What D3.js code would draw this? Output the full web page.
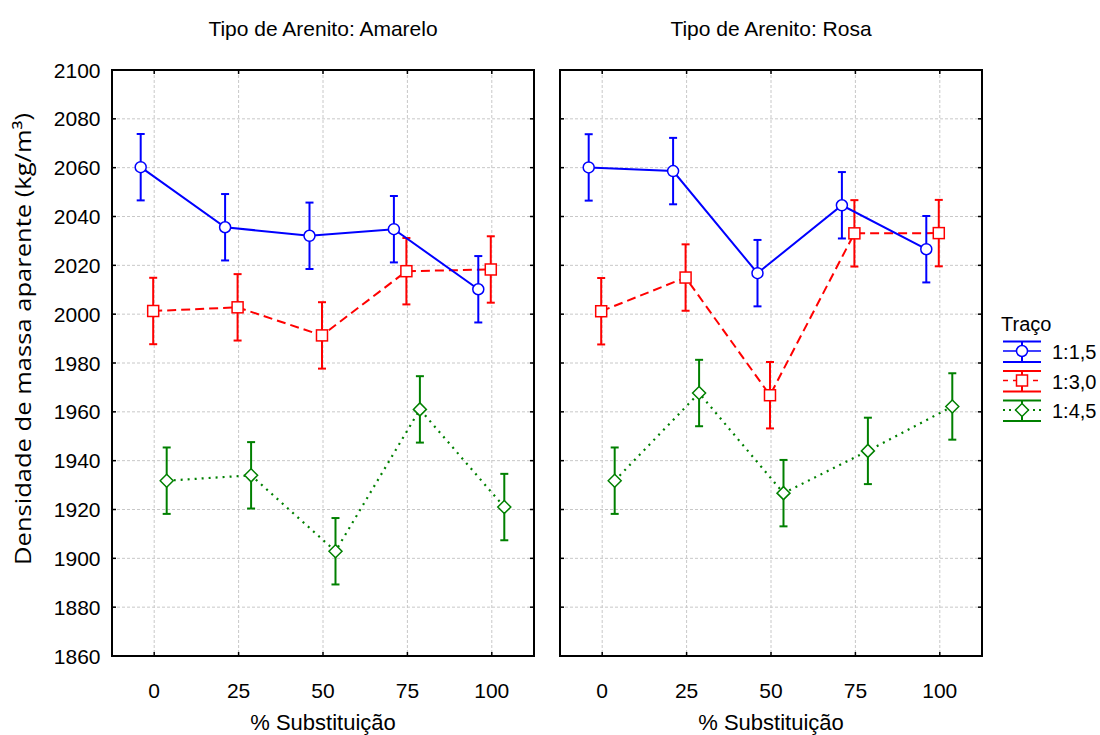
<!DOCTYPE html>
<html>
<head>
<meta charset="utf-8">
<script src="https://cdn.jsdelivr.net/npm/d3@7"></script>
<style>
  html, body { margin: 0; padding: 0; background: #fff; }
  svg { display: block; }
  text { font-family: "Liberation Sans", Arial, sans-serif; fill: #000; }
</style>
</head>
<body>
<svg id="chart" width="1100" height="735"></svg>
<script>
// Substitution levels (%) on the x axis
const categories = [0, 25, 50, 75, 100];
// Mix proportions (legend "Traço")
const seriesNames = ["1:1,5", "1:3,0", "1:4,5"];
const seriesColors = ["#0000ff", "#ff0000", "#008000"];
const panelTitles = ["Tipo de Arenito: Amarelo", "Tipo de Arenito: Rosa"];
const yTicks = [1860, 1880, 1900, 1920, 1940, 1960, 1980, 2000, 2020, 2040, 2060, 2080, 2100];

// Mean apparent density (kg/m³) – Amarelo
const amarelo_1_15 = [2060.2, 2035.6, 2032.1, 2034.8, 2010.2];
const amarelo_1_30 = [2001.3, 2002.8, 1991.3, 2017.6, 2018.3];
const amarelo_1_45 = [1931.8, 1934.0, 1902.9, 1961.0, 1921.0];
// Mean apparent density (kg/m³) – Rosa
const rosa_1_15 = [2060.1, 2058.6, 2016.8, 2044.6, 2026.6];
const rosa_1_30 = [2001.2, 2015.0, 1966.8, 2033.1, 2033.2];
const rosa_1_45 = [1931.8, 1967.7, 1926.7, 1944.0, 1962.2];
// Half-width of the confidence interval bars
const ciHalf = 13.6;

const panels = [
  { title: panelTitles[0], series: [amarelo_1_15, amarelo_1_30, amarelo_1_45] },
  { title: panelTitles[1], series: [rosa_1_15, rosa_1_30, rosa_1_45] }
];

// Horizontal jitter (in x units) so the three series don't overlap
const jitter = [-4, -0.3, 3.7];
const dashes = [null, "9,5", "2,5"];
const markerTypes = ["circle", "square", "diamond"];

const svg = d3.select("#chart");
const plotTop = 70, plotBottom = 656;
const panelX = [[112, 534], [560, 982]];

const y = d3.scaleLinear().domain([1860, 2100]).range([plotBottom, plotTop]);

function drawMarker(g, type, cx, cy, color) {
  if (type === "circle") {
    g.append("circle").attr("cx", cx).attr("cy", cy).attr("r", 5.5)
      .attr("fill", "#fff").attr("stroke", color).attr("stroke-width", 1.5);
  } else if (type === "square") {
    g.append("rect").attr("x", cx - 5.5).attr("y", cy - 5.5).attr("width", 11).attr("height", 11)
      .attr("fill", "#fff").attr("stroke", color).attr("stroke-width", 1.5);
  } else {
    const s = 6.5;
    g.append("path").attr("d", `M${cx},${cy - s}L${cx + s},${cy}L${cx},${cy + s}L${cx - s},${cy}Z`)
      .attr("fill", "#fff").attr("stroke", color).attr("stroke-width", 1.5);
  }
}

panels.forEach((p, pi) => {
  const [x0, x1] = panelX[pi];
  const x = d3.scaleLinear().domain([-12.5, 112.5]).range([x0, x1]);
  const g = svg.append("g");

  // grid
  g.append("g").selectAll("line").data(yTicks.slice(1, -1)).join("line")
    .attr("x1", x0).attr("x2", x1).attr("y1", d => y(d)).attr("y2", d => y(d))
    .attr("stroke", "#c8c8c8").attr("stroke-width", 1).attr("stroke-dasharray", "3,2");
  g.append("g").selectAll("line").data(categories).join("line")
    .attr("x1", d => x(d)).attr("x2", d => x(d)).attr("y1", plotTop).attr("y2", plotBottom)
    .attr("stroke", "#c8c8c8").attr("stroke-width", 1).attr("stroke-dasharray", "3,2");

  // inward ticks on all four sides
  const tickLen = 4;
  g.append("g").selectAll("line").data(yTicks).join("line")
    .attr("x1", x0).attr("x2", x0 + tickLen).attr("y1", d => y(d)).attr("y2", d => y(d))
    .attr("stroke", "#000").attr("stroke-width", 1.5);
  g.append("g").selectAll("line").data(yTicks).join("line")
    .attr("x1", x1 - tickLen).attr("x2", x1).attr("y1", d => y(d)).attr("y2", d => y(d))
    .attr("stroke", "#000").attr("stroke-width", 1.5);
  g.append("g").selectAll("line").data(categories).join("line")
    .attr("x1", d => x(d)).attr("x2", d => x(d)).attr("y1", plotTop).attr("y2", plotTop + tickLen)
    .attr("stroke", "#000").attr("stroke-width", 1.5);
  g.append("g").selectAll("line").data(categories).join("line")
    .attr("x1", d => x(d)).attr("x2", d => x(d)).attr("y1", plotBottom - tickLen).attr("y2", plotBottom)
    .attr("stroke", "#000").attr("stroke-width", 1.5);

  // series: lines, error bars, markers
  [2, 1, 0].forEach(si => {
    const vals = p.series[si];
    const color = seriesColors[si];
    const pts = categories.map((c, i) => [x(c + jitter[si]), y(vals[i])]);
    const line = g.append("path").attr("d", d3.line()(pts))
      .attr("fill", "none").attr("stroke", color).attr("stroke-width", si === 2 ? 2.2 : 2);
    if (dashes[si]) line.attr("stroke-dasharray", dashes[si]);

    categories.forEach((c, i) => {
      const cx = x(c + jitter[si]);
      const yt = y(vals[i] + ciHalf), yb = y(vals[i] - ciHalf);
      g.append("line").attr("x1", cx).attr("x2", cx).attr("y1", yt).attr("y2", yb)
        .attr("stroke", color).attr("stroke-width", 2);
      [yt, yb].forEach(yy => g.append("line").attr("x1", cx - 4).attr("x2", cx + 4)
        .attr("y1", yy).attr("y2", yy).attr("stroke", color).attr("stroke-width", 2));
      drawMarker(g, markerTypes[si], cx, y(vals[i]), color);
    });
  });

  // frame
  g.append("rect").attr("x", x0).attr("y", plotTop).attr("width", x1 - x0).attr("height", plotBottom - plotTop)
    .attr("fill", "none").attr("stroke", "#000").attr("stroke-width", 2);

  // x tick labels
  g.append("g").selectAll("text").data(categories).join("text")
    .attr("x", d => x(d)).attr("y", 690).attr("text-anchor", "middle")
    .attr("dominant-baseline", "central").attr("font-size", 21).text(d => d);

  // x title
  g.append("text").attr("x", (x0 + x1) / 2).attr("y", 722).attr("text-anchor", "middle")
    .attr("dominant-baseline", "central").attr("font-size", 22).text("% Substituição");

  // panel title
  g.append("text").attr("x", (x0 + x1) / 2).attr("y", 28.5).attr("text-anchor", "middle")
    .attr("dominant-baseline", "central").attr("font-size", 21).text(p.title);

  if (pi === 0) {
    g.append("g").selectAll("text").data(yTicks).join("text")
      .attr("x", 100.5).attr("y", d => y(d)).attr("text-anchor", "end")
      .attr("dominant-baseline", "central").attr("font-size", 21).text(d => d);
  }
});

// y axis title
svg.append("text")
  .attr("transform", "translate(22,339) rotate(-90)")
  .attr("text-anchor", "middle").attr("dominant-baseline", "central")
  .style("font-family", "'Open Sans', sans-serif").attr("font-size", 22)
  .attr("textLength", 452).attr("lengthAdjust", "spacingAndGlyphs")
  .text("Densidade de massa aparente (kg/m³)");

// legend
const lg = svg.append("g");
lg.append("text").attr("x", 1001).attr("y", 324).attr("dominant-baseline", "central")
  .attr("font-size", 20).text("Traço");
seriesNames.forEach((name, si) => {
  const cy = 351 + si * 29.5;
  const color = seriesColors[si];
  const xa = 1003, xb = 1041, xm = 1022;
  lg.append("line").attr("x1", xa).attr("x2", xb).attr("y1", cy - 9.5).attr("y2", cy - 9.5)
    .attr("stroke", color).attr("stroke-width", 2);
  lg.append("line").attr("x1", xa).attr("x2", xb).attr("y1", cy + 11).attr("y2", cy + 11)
    .attr("stroke", color).attr("stroke-width", 2);
  lg.append("line").attr("x1", xm).attr("x2", xm).attr("y1", cy - 9.5).attr("y2", cy + 11)
    .attr("stroke", color).attr("stroke-width", 2);
  const ml = lg.append("line").attr("x1", xa).attr("x2", xb).attr("y1", cy).attr("y2", cy)
    .attr("stroke", color).attr("stroke-width", si === 2 ? 2.2 : 1.5);
  if (dashes[si]) ml.attr("stroke-dasharray", si === 1 ? "5,5" : "2,4");
  drawMarker(lg, markerTypes[si], xm, cy, color);
  lg.append("text").attr("x", 1052).attr("y", cy + 1).attr("dominant-baseline", "central")
    .attr("font-size", 20).text(name);
});
</script>
</body>
</html>
